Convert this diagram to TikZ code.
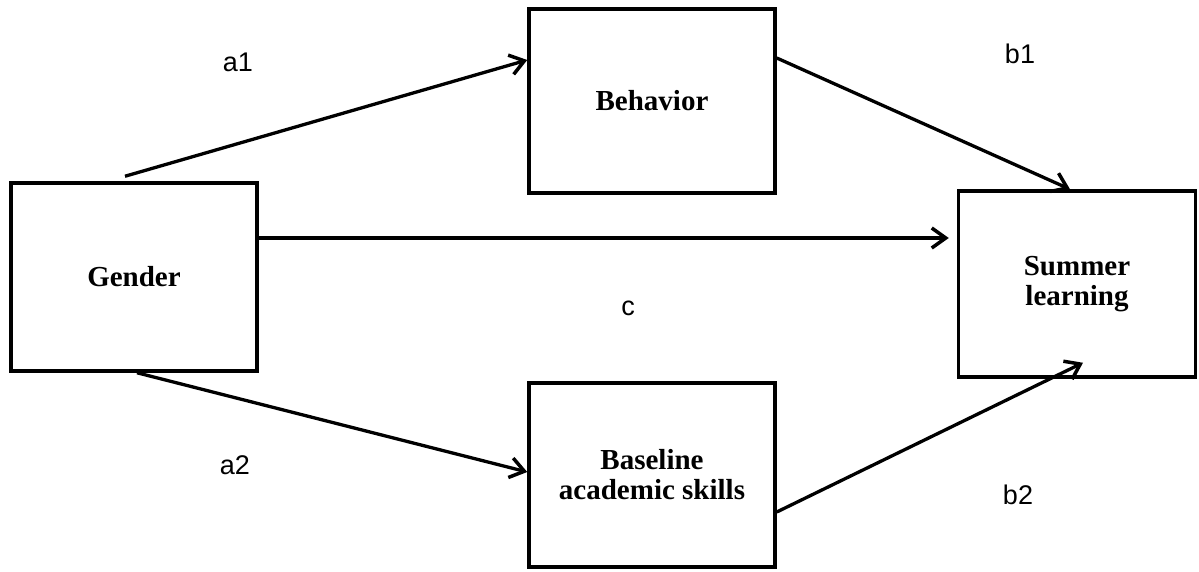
\documentclass[tikz,border=0pt]{standalone}
\usepackage{fontspec}
\setmainfont{Liberation Serif}
\newfontfamily\labelfont{Liberation Sans}
\usetikzlibrary{positioning, arrows.meta}

\begin{document}
\begin{tikzpicture}[x=1pt, y=-1pt,
  var/.style={draw, line width=3.5pt, align=center, inner sep=0pt,
              font=\fontsize{29}{30}\selectfont\bfseries},
  path/.style={-{Straight Barb[length=14pt, width=20pt, line width=3.5pt]}, line width=3.3pt},
  coef/.style={font=\labelfont\fontsize{27}{29}\selectfont}
]
\useasboundingbox (0,0) rectangle (1199,571);
\node[var, minimum width=246pt, minimum height=188pt] (gender)   at (134,277)  {Gender};
\node[var, minimum width=246pt, minimum height=184pt] (behavior) at (652,101)  {Behavior};
\node[var, minimum width=246pt, minimum height=184pt] (baseline) at (652,475)  {Baseline\\academic skills};
\node[var, minimum width=237pt, minimum height=186pt] (summer)   at (1077,284) {Summer\\learning};
\draw[path] ([xshift=-9pt, yshift=5pt]gender.north) -- ([yshift=41pt]behavior.west);
\draw[path] ([yshift=39pt]gender.east) -- ([xshift=-8pt, yshift=46pt]summer.west);
\draw[path] ([xshift=3pt]gender.south) -- ([yshift=3pt]baseline.west);
\draw[path] ([yshift=43pt]behavior.east) -- ([xshift=-7pt]summer.north);
\draw[path] ([yshift=-37pt]baseline.east) -- ([xshift=6pt, yshift=16pt]summer.south);
\node[coef] (la1) at (238,62)  {a1};
\node[coef] (lb1) at (1020,54) {b1};
\node[coef] (lc)  at (628,308) {c};
\node[coef] (la2) at (235,465) {a2};
\node[coef] (lb2) at (1018,495) {b2};
\end{tikzpicture}
\end{document}
